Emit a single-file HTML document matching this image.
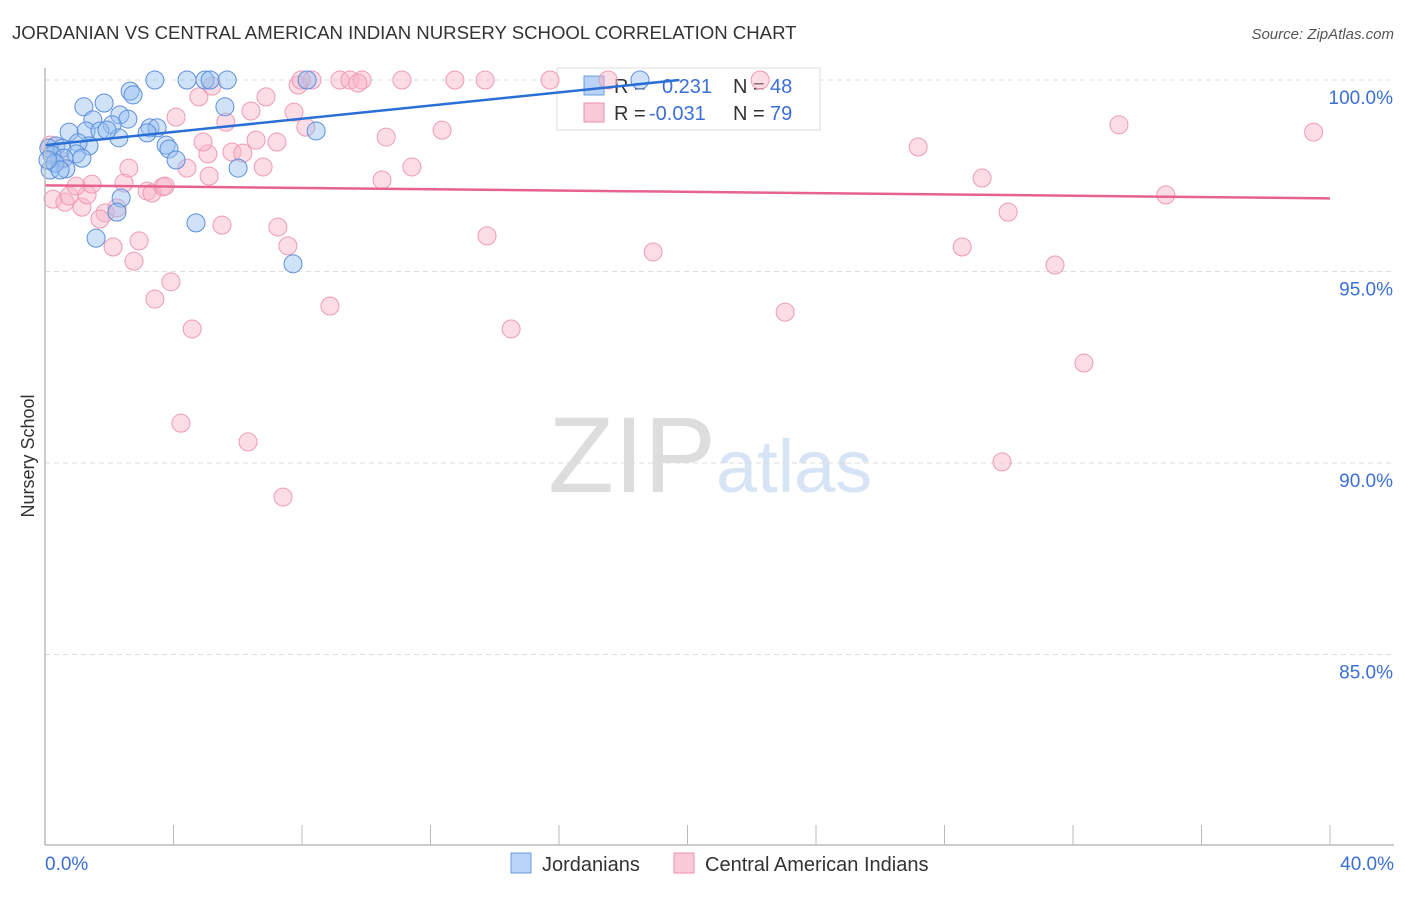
<!DOCTYPE html>
<html><head><meta charset="utf-8"><style>
body{margin:0;background:#fff;font-family:"Liberation Sans",sans-serif;}
svg text{font-family:"Liberation Sans",sans-serif;}
</style></head><body>
<svg id="c" width="1406" height="892" xmlns="http://www.w3.org/2000/svg">
<text x="12" y="39" font-size="18.6" fill="#333">JORDANIAN VS CENTRAL AMERICAN INDIAN NURSERY SCHOOL CORRELATION CHART</text>
<text x="1394" y="39" font-size="15" fill="#555" font-style="italic" text-anchor="end">Source: ZipAtlas.com</text>
<text x="716" y="492" font-size="108" fill="#ddd" text-anchor="end" font-family="Liberation Serif">ZIP</text>
<text x="716" y="492" font-size="74" fill="#d6e4f5">atlas</text>
<text transform="translate(34,456) rotate(-90)" font-size="18" fill="#333" text-anchor="middle">Nursery School</text>
<g id="grid"></g>
<g>
<rect x="557" y="68" width="263" height="62" fill="#fff" stroke="#ddd"/>
<rect x="584" y="76" width="20" height="19" fill="#b8d3f5" stroke="#6a9be0"/>
<rect x="584" y="103" width="20" height="19" fill="#fac9d8" stroke="#ee90ae"/>
<text x="614" y="93" font-size="20" fill="#333">R = </text><text x="662" y="93" font-size="20" fill="#3b6fd4">0.231</text>
<text x="733" y="93" font-size="20" fill="#333">N = </text><text x="770" y="93" font-size="20" fill="#3b6fd4">48</text>
<text x="614" y="120" font-size="20" fill="#333">R = </text><text x="649" y="120" font-size="20" fill="#3b6fd4">-0.031</text>
<text x="733" y="120" font-size="20" fill="#333">N = </text><text x="770" y="120" font-size="20" fill="#3b6fd4">79</text>
</g>
<g id="pts"></g><g id="trend"></g>
<line x1="45" y1="68" x2="45" y2="845" stroke="#bbb" stroke-width="1.5"/>
<line x1="45" y1="845" x2="1394" y2="845" stroke="#bbb" stroke-width="1.5"/>
<text x="45" y="870" font-size="19" fill="#3b6fd4">0.0%</text>
<text x="1394" y="870" font-size="19" fill="#3b6fd4" text-anchor="end">40.0%</text>
<rect x="511" y="853" width="20" height="20" fill="#b8d3f5" stroke="#6a9be0"/>
<text x="542" y="871" font-size="20" fill="#333">Jordanians</text>
<rect x="674" y="853" width="20" height="20" fill="#fac9d8" stroke="#ee90ae"/>
<text x="705" y="871" font-size="20" fill="#333">Central American Indians</text>
</svg>
<script>
const yTicks=[100,95,90,85];
const yTickLabels=["100.0%","95.0%","90.0%","85.0%"];
const xTicks=[0,4,8,12,16,20,24,28,32,36,40];
const blueX=[3.42,4.42,4.98,5.14,5.67,8.16,2.65,2.74,1.21,1.84,5.60,2.33,2.58,1.49,2.09,3.27,3.49,1.28,0.75,1.71,3.18,2.30,3.77,3.86,0.34,0.12,1.37,1.03,0.53,0.97,0.22,0.59,4.08,6.01,0.65,0.16,2.37,2.24,4.70,1.59,7.72,8.44,18.52,0.31,0.47,0.09,1.93,1.15];
const blueY=[100,100,100,100,100,100,99.71,99.61,99.30,99.40,99.30,99.09,98.98,98.96,98.83,98.75,98.75,98.67,98.64,98.67,98.62,98.49,98.30,98.20,98.28,98.22,98.28,98.36,98.22,98.07,98.04,97.96,97.91,97.70,97.68,97.65,96.92,96.55,96.27,95.87,95.20,98.67,100,97.83,97.65,97.91,98.69,97.96];
const pinkX=[0.16,0.25,0.62,1.15,0.75,1.31,0.97,1.46,2.46,2.61,1.87,1.71,2.24,2.12,2.77,2.93,3.18,3.33,3.67,3.74,4.42,5.11,3.92,3.42,4.58,4.23,6.32,7.41,5.51,5.07,4.79,5.20,4.08,4.92,5.63,5.82,6.16,6.41,6.57,6.79,6.88,7.22,7.25,7.56,7.75,7.88,8.12,8.31,7.97,9.18,9.49,9.87,9.74,8.87,10.49,10.62,11.11,11.42,12.36,12.76,13.70,13.76,14.51,15.72,17.53,18.93,22.26,23.04,27.18,28.55,29.17,29.98,29.79,31.44,32.34,33.43,34.89,39.49,0.47];
const pinkY=[98.30,96.89,96.81,96.68,96.97,97.00,97.23,97.28,97.31,97.70,96.53,96.37,96.66,95.64,95.27,95.80,97.10,97.05,97.21,97.23,97.70,97.49,94.73,94.28,93.50,91.04,90.55,89.11,96.21,98.07,99.56,99.84,99.03,98.38,98.90,98.12,98.09,99.19,98.43,97.73,99.56,98.38,96.16,95.67,99.16,99.87,98.77,100,100,100,100,100,99.92,94.10,97.39,98.51,100,97.73,98.69,100,100,95.93,93.50,100,100,95.51,100,93.94,98.25,95.64,97.44,96.55,90.03,95.17,92.61,98.83,97.00,98.64,97.91];
const blueTrend=[[0,98.30],[19.75,100]];
const pinkTrend=[[0,97.25],[40,96.91]];
const NS="http://www.w3.org/2000/svg";
const X=v=>45+v/40*1285;
const Y=v=>80+(100-v)*38.3;
function mk(t,a,p){const e=document.createElementNS(NS,t);for(const k in a)e.setAttribute(k,a[k]);p.appendChild(e);return e;}
const grid=document.getElementById('grid');
yTicks.forEach((v,i)=>{
 const l=mk('line',{x1:45,x2:1394,y1:Y(v),y2:Y(v),stroke:'#ddd','stroke-dasharray':'5,4'},grid);
 
 
 const t=mk('text',{x:1393,y:Y(v)+24,'font-size':19,fill:'#3b6fd4','text-anchor':'end'},grid);
 t.textContent=yTickLabels[i];
 
 
});
xTicks.forEach(v=>{
 const l=mk('line',{x1:X(v),x2:X(v),y1:825,y2:845,stroke:'#bbb'},grid);
 
 
});
const pts=document.getElementById('pts');
pinkX.forEach((x,i)=>{
 const c=mk('circle',{cx:X(x),cy:Y(pinkY[i]),r:9,fill:'rgba(248,180,200,0.45)',stroke:'#ee9ab4','stroke-width':1},pts);
 
 
});
blueX.forEach((x,i)=>{
 const c=mk('circle',{cx:X(x),cy:Y(blueY[i]),r:9,fill:'rgba(150,190,240,0.45)',stroke:'#5b8fdc','stroke-width':1},pts);
 
 
});
const tr=document.getElementById('trend');
const b=mk('line',{x1:X(blueTrend[0][0]),y1:Y(blueTrend[0][1]),x2:X(blueTrend[1][0]),y2:Y(blueTrend[1][1]),stroke:'#2a6fd6','stroke-width':2.5},tr);


const p=mk('line',{x1:X(pinkTrend[0][0]),y1:Y(pinkTrend[0][1]),x2:X(pinkTrend[1][0]),y2:Y(pinkTrend[1][1]),stroke:'#e8628e','stroke-width':2.5},tr);


</script>
</body></html>
